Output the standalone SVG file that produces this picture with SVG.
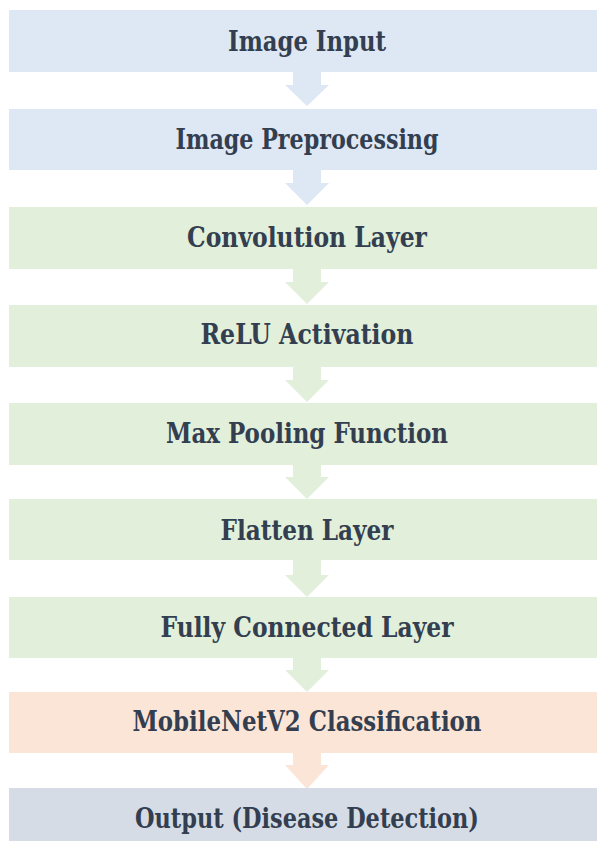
<svg xmlns="http://www.w3.org/2000/svg" width="597" height="841" viewBox="0 0 597 841">
<defs>
<style>
.t{font-family:"DejaVu Serif Condensed","DejaVu Serif",serif;font-stretch:condensed;font-weight:bold;font-size:27px;fill:#333F50;text-anchor:middle}
.blue{fill:#DEE8F4}
.green{fill:#E2EFDA}
.pink{fill:#FBE5D7}
.gray{fill:#D6DCE5}
</style>
</defs>
<rect width="597" height="841" fill="#FFFFFF"/>
<g id="connectors">
<polygon class="blue" points="293,72 321,72 321,85 329,85 307,106 285,85 293,85"/>
<polygon class="blue" points="293,170 321,170 321,183 329,183 307,205 285,183 293,183"/>
<polygon class="green" points="293,269 321,269 321,282 329,282 307,304 285,282 293,282"/>
<polygon class="green" points="293,367 321,367 321,380 329,380 307,402 285,380 293,380"/>
<polygon class="green" points="293,465 321,465 321,477 329,477 307,499 285,477 293,477"/>
<polygon class="green" points="293,560 321,560 321,575 329,575 307,597 285,575 293,575"/>
<polygon class="green" points="293,658 321,658 321,670 329,670 307,692 285,670 293,670"/>
<polygon class="pink" points="293,753 321,753 321,765 329,765 307,789 285,765 293,765"/>
</g>
<g id="n1"><rect class="blue" x="9" y="10" width="600" height="62"/><text class="t" x="307" y="51" textLength="158" lengthAdjust="spacingAndGlyphs">Image Input</text></g>
<g id="n2"><rect class="blue" x="9" y="109" width="600" height="61"/><text class="t" x="307" y="149" textLength="263" lengthAdjust="spacingAndGlyphs">Image Preprocessing</text></g>
<g id="n3"><rect class="green" x="9" y="207" width="600" height="62"/><text class="t" x="307" y="247" textLength="240" lengthAdjust="spacingAndGlyphs">Convolution Layer</text></g>
<g id="n4"><rect class="green" x="9" y="305" width="600" height="62"/><text class="t" x="307" y="344" textLength="213" lengthAdjust="spacingAndGlyphs">ReLU Activation</text></g>
<g id="n5"><rect class="green" x="9" y="403" width="600" height="62"/><text class="t" x="307" y="443" textLength="282" lengthAdjust="spacingAndGlyphs">Max Pooling Function</text></g>
<g id="n6"><rect class="green" x="9" y="499" width="600" height="61"/><text class="t" x="307" y="540" textLength="173" lengthAdjust="spacingAndGlyphs">Flatten Layer</text></g>
<g id="n7"><rect class="green" x="9" y="597" width="600" height="61"/><text class="t" x="307" y="637" textLength="293" lengthAdjust="spacingAndGlyphs">Fully Connected Layer</text></g>
<g id="n8"><rect class="pink" x="9" y="692" width="600" height="61"/><text class="t" x="307" y="731" textLength="349" lengthAdjust="spacingAndGlyphs">MobileNetV2 Classification</text></g>
<g id="n9"><rect class="gray" x="9" y="788" width="600" height="62"/><text class="t" x="307" y="828" textLength="344" lengthAdjust="spacingAndGlyphs">Output (Disease Detection)</text></g>
</svg>
